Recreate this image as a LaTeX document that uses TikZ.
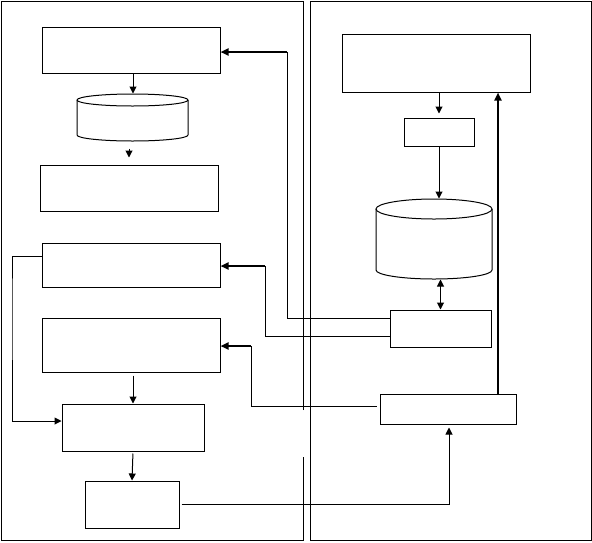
\documentclass[tikz,border=0pt]{standalone}
\usetikzlibrary{arrows.meta}
\begin{document}
\begin{tikzpicture}[x=1pt,y=-1pt,
  every path/.style={line width=1pt},
  box/.style={draw,line width=1pt,inner sep=0pt,rectangle},
  cylbox/.style={inner sep=0pt,rectangle},
  arr/.style={line width=1pt,-{Triangle[length=7pt,width=7pt]}},
  darr/.style={line width=1pt,{Triangle[length=7pt,width=7pt]}-{Triangle[length=7pt,width=7pt]}},
  tarr/.style={line width=2pt,-{Triangle[length=8pt,width=7pt]}},
  ttarr/.style={line width=2.5pt,-{Triangle[length=8pt,width=7pt]}}]
\useasboundingbox (0,0) rectangle (592,542);
% frames
\draw (303,410) -- (303,1.5) -- (1.5,1.5) -- (1.5,540.5) -- (303,540.5) -- (303,457);
\draw (310,1.5) rectangle (591,540.5);
% left column
\node[box,minimum width=178pt,minimum height=46pt] (A) at (131,50) {};
\node[cylbox,minimum width=111pt,minimum height=47pt] (c1) at (132.5,117.5) {};
\node[box,minimum width=178pt,minimum height=46pt] (B) at (129,188) {};
\node[box,minimum width=178pt,minimum height=44pt] (C) at (131,265) {};
\node[box,minimum width=178pt,minimum height=54pt] (D) at (131,345) {};
\node[box,minimum width=142pt,minimum height=47pt] (E) at (133,427.5) {};
\node[box,minimum width=94pt,minimum height=47pt] (F) at (132,504.5) {};
% right column
\node[box,minimum width=188pt,minimum height=58pt] (G) at (436,63) {};
\node[box,minimum width=70pt,minimum height=28pt] (H) at (439,132) {};
\node[cylbox,minimum width=116pt,minimum height=80pt] (c2) at (434,239) {};
\node[box,minimum width=101pt,minimum height=37pt] (I) at (440.5,328.5) {};
\node[box,minimum width=136pt,minimum height=30pt] (J) at (448,409) {};
% cylinder outlines
\draw (77,100) -- (77,135) arc[start angle=180,end angle=360,x radius=55.5pt,y radius=6pt] -- (188,100);
\draw (132.5,100) ellipse[x radius=55.5pt,y radius=6pt];
\draw (376,209) -- (376,270) arc[start angle=180,end angle=360,x radius=58pt,y radius=9pt] -- (492,209);
\draw (434,209) ellipse[x radius=58pt,y radius=10pt];
% connectors left
\draw[arr] ([xshift=2pt]A.south) -- ([xshift=2pt]A.south |- c1.north);
\draw[arr,shorten <=7pt,shorten >=7pt] ([xshift=-3.5pt]c1.south) -- ([xshift=-3.5pt]c1.south |- B.north);
\draw[arr,shorten <=3pt] ([xshift=2pt]D.south) -- ([xshift=2pt]D.south |- E.north);
\draw[arr,shorten <=2pt] (E.south) -- (F.north);
\coordinate (kE) at (12,300);
\draw[arr] ([yshift=9pt]C.west) -| (kE) |- ([yshift=6.5pt]E.west);
% connectors right
\draw[arr,shorten >=4pt] (H.north |- G.south) -- (H.north);
\draw[arr] (H.south) -- (H.south |- c2.north);
\draw[darr] (I.north) -- (I.north |- c2.south);
\draw[ttarr] ([xshift=50pt]J.north) -- ([xshift=50pt]J.north |- G.south);
\draw[arr,shorten >=3pt] ([xshift=2pt]F.east) -| ([xshift=1pt]J.south);
% feedback lines
\coordinate (kA) at (287,52);
\coordinate (kC) at (265,266);
\coordinate (kD) at (251,346);
\draw ([yshift=10.5pt]I.west) -| (kA);
\draw[tarr] (kA) -- ([yshift=-2pt]A.east);
\draw ([yshift=-7.5pt]I.west) -| (kC);
\draw[tarr] (kC) -- ([yshift=-1pt]C.east);
\draw ([xshift=-3pt,yshift=3pt]J.west) -| (kD);
\draw[tarr] (kD) -- (D.east |- kD);
\end{tikzpicture}
\end{document}
